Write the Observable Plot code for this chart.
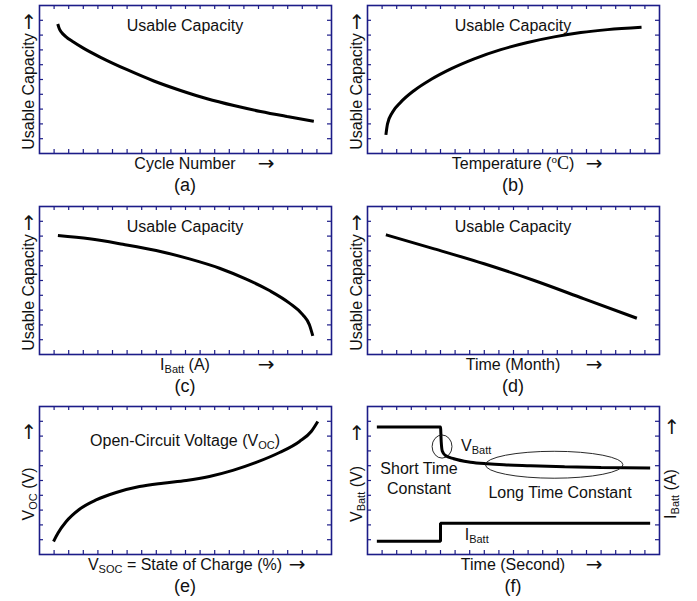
<!DOCTYPE html>
<html>
<head>
<meta charset="utf-8">
<script src="https://cdn.jsdelivr.net/npm/d3@7"></script>
<script src="https://cdn.jsdelivr.net/npm/@observablehq/plot@0.6"></script>
<style>
  html, body { margin: 0; padding: 0; background: #fff; }
  #chart { position: relative; width: 697px; height: 601px; background: #fff; }
  #chart svg { position: absolute; overflow: visible; }
</style>
</head>
<body>
<div id="chart"></div>
<script>
// ---------- data (arbitrary units: x 0..20, y 0..10) ----------
const gridX = [1,2,3,4,5,6,7,8,9,10,11,12,13,14,15,16,17,18,19];
const gridY = [1,2,3,4,5,6,7,8,9];

// (a) usable capacity vs cycle number
const cycleNumber   = [1.25, 1.35, 1.5, 1.8, 2.3, 3.0, 4.18, 6.0, 7.83, 9.66, 11.48, 13.31, 15.14, 16.96, 18.79];
const capacityCycle = [8.75, 8.45, 8.2, 7.9, 7.55, 7.12, 6.5, 5.66, 4.9, 4.26, 3.70, 3.24, 2.84, 2.50, 2.18];

// (b) usable capacity vs temperature
const temperature  = [1.26, 1.37, 1.71, 2.28, 3.2, 4.34, 5.71, 7.31, 9.13, 10.96, 12.79, 14.61, 16.44, 18.77];
const capacityTemp = [1.26, 2.0, 2.79, 3.47, 4.26, 5.0, 5.72, 6.4, 7.02, 7.5, 7.88, 8.17, 8.37, 8.53];

// (c) usable capacity vs battery current
const batteryCurrent  = [1.26, 3.42, 5.71, 7.99, 10.27, 12.33, 14.16, 15.75, 17.12, 18.04, 18.49, 18.72];
const capacityCurrent = [8.04, 7.82, 7.45, 7.03, 6.46, 5.83, 5.09, 4.32, 3.47, 2.68, 2.0, 1.26];

// (d) usable capacity vs time (month)
const timeMonth    = [1.26, 4.57, 7.99, 11.42, 14.84, 18.45];
const capacityTime = [8.09, 7.14, 6.13, 5.0, 3.76, 2.45];

// (e) open-circuit voltage vs state of charge
const stateOfCharge = [0.96, 1.26, 1.83, 2.74, 3.88, 5.25, 6.85, 8.45, 10.05, 11.64, 13.24, 14.84, 16.44, 17.81, 18.61, 19.06];
const openCircuitV  = [0.88, 1.44, 2.23, 3.06, 3.69, 4.19, 4.59, 4.82, 5.0, 5.27, 5.68, 6.22, 6.89, 7.64, 8.31, 8.99];

// (f) transient response: battery voltage and current vs time (second)
const vBattTime = [0.64, 5.0, 5.05, 5.12, 5.34, 5.91, 7.05, 8.2, 9.34, 11.16, 13.5, 16.0, 19.36];
const vBatt     = [8.62, 8.62, 7.6, 7.0, 6.69, 6.47, 6.24, 6.13, 6.06, 6.0, 5.93, 5.87, 5.84];
const iBattTime = [0.64, 5.0, 5.0, 19.36];
const iBatt     = [0.9, 0.9, 2.11, 2.11];

// (f) annotation ellipses (centre and radii in data units)
const ellipseCx = [5.14, 12.82];
const ellipseCy = [7.26, 6.03];
const ellipseRx = [0.68, 4.71];
const ellipseRy = [0.78, 0.91];

// ---------- styling ----------
const SANS = "'Liberation Sans', Arial, Helvetica, sans-serif";
const SERIF = "'Liberation Serif', 'Times New Roman', serif";
const ARROWFONT = "'DejaVu Sans', sans-serif";
const NAVY = "#1c1c88";
const INK = "#111";
const FW = 292, FH = 148;

const zip = (xs, ys) => xs.map((x, i) => ({x, y: ys[i]}));
const sub = (t) => ({t, size: 11, shift: 3});

const panels = [
  { col: 0, row: 0, letter: "(a)",
    series: [{data: zip(cycleNumber, capacityCycle), curve: "monotone-x"}],
    title: ["Usable Capacity"], titleY: 26,
    xlabel: ["Cycle Number"], arrowDx: 81,
    ylabel: ["Usable Capacity"], ylabelY: 86.5, yarrowY: 16.5 },
  { col: 1, row: 0, letter: "(b)",
    series: [{data: zip(temperature, capacityTemp), curve: "monotone-x"}],
    title: ["Usable Capacity"], titleY: 26,
    xlabel: ["Temperature (", {t: "o", size: 11, shift: -6, family: SERIF}, {t: "C", family: SERIF, size: 18, shift: 0}, ")"], arrowDx: 81,
    ylabel: ["Usable Capacity"], ylabelY: 86.5, yarrowY: 16.5 },
  { col: 0, row: 1, letter: "(c)",
    series: [{data: zip(batteryCurrent, capacityCurrent), curve: "monotone-x"}],
    title: ["Usable Capacity"], titleY: 26,
    xlabel: ["I", sub("Batt"), " (A)"], arrowDx: 81,
    ylabel: ["Usable Capacity"], ylabelY: 86.5, yarrowY: 16.5 },
  { col: 1, row: 1, letter: "(d)",
    series: [{data: zip(timeMonth, capacityTime), curve: "monotone-x"}],
    title: ["Usable Capacity"], titleY: 26,
    xlabel: ["Time (Month)"], arrowDx: 81,
    ylabel: ["Usable Capacity"], ylabelY: 86.5, yarrowY: 16.5 },
  { col: 0, row: 2, letter: "(e)",
    series: [{data: zip(stateOfCharge, openCircuitV), curve: "monotone-x"}],
    title: ["Open-Circuit Voltage (V", sub("OC"), ")"], titleY: 40,
    xlabel: ["V", sub("SOC"), " = State of Charge (%)"], arrowDx: 112,
    ylabel: ["V", sub("OC"), " (V)"], ylabelY: 88, yarrowY: 25.5 },
  { col: 1, row: 2, letter: "(f)",
    series: [{data: zip(vBattTime, vBatt), curve: "monotone-x"},
             {data: zip(iBattTime, iBatt), curve: "linear"}],
    ellipses: true,
    xlabel: ["Time (Second)"], arrowDx: 81,
    ylabel: ["V", sub("Batt"), " (V)"], ylabelY: 88, yarrowY: 26.5,
    rightLabel: ["I", sub("Batt"), " (A)"], rightLabelY: 88, rightArrowY: 20.5,
    notes: [
      {x: 94, y: 44.7, anchor: "start", parts: ["V", sub("Batt")]},
      {x: 52, y: 68.3, parts: ["Short Time"]},
      {x: 52, y: 88.3, parts: ["Constant"]},
      {x: 193, y: 92.3, parts: ["Long Time Constant"]},
      {x: 97.7, y: 133.5, anchor: "start", parts: ["I", sub("Batt")]}
    ] }
];

const colLayout = [
  {left: 0, width: 348, ml: 39, mr: 17},
  {left: 348, width: 349, ml: 19, mr: 38}
];
const rowLayout = [
  {top: 0, height: 200, mt: 5, mb: 47},
  {top: 200, height: 200, mt: 6, mb: 46},
  {top: 400, height: 201, mt: 6, mb: 47}
];

function addText(svg, {x, y, parts, anchor = "middle", size = 16, rotate = 0, family = SANS, central = false}) {
  const t = svg.append("text")
    .attr("transform", `translate(${x},${y})` + (rotate ? ` rotate(${rotate})` : ""))
    .attr("text-anchor", anchor)
    .attr("font-family", family)
    .attr("font-size", size)
    .attr("fill", INK);
  if (central) t.attr("dominant-baseline", "central");
  let cur = 0;
  for (const p of parts) {
    const o = typeof p === "string" ? {t: p} : p;
    const shift = o.shift ?? 0;
    const s = t.append("tspan").text(o.t);
    if (shift !== cur) { s.attr("dy", shift - cur); cur = shift; }
    if (o.size) s.attr("font-size", o.size);
    if (o.family) s.attr("font-family", o.family);
  }
  return t;
}

function addArrow(svg, x, y, rotate = 0) {
  return addText(svg, {x, y, parts: ["\u2192"], family: ARROWFONT, size: 20, rotate, central: true});
}

const root = document.getElementById("chart");

for (const p of panels) {
  const C = colLayout[p.col], R = rowLayout[p.row];
  const plot = Plot.plot({
    width: C.width, height: R.height,
    marginLeft: C.ml, marginRight: C.mr, marginTop: R.mt, marginBottom: R.mb,
    x: {domain: [0, 20], axis: null},
    y: {domain: [0, 10], axis: null},
    style: {background: "transparent", overflow: "visible"},
    marks: [
      Plot.tickX(gridX, {x: d => d, stroke: NAVY, strokeWidth: 1.2, insetTop: FH - 4}),
      Plot.tickX(gridX, {x: d => d, stroke: NAVY, strokeWidth: 1.2, insetBottom: FH - 4}),
      Plot.tickY(gridY, {y: d => d, stroke: NAVY, strokeWidth: 1.2, insetRight: FW - 4}),
      Plot.tickY(gridY, {y: d => d, stroke: NAVY, strokeWidth: 1.2, insetLeft: FW - 4}),
      Plot.frame({stroke: NAVY, strokeWidth: 1.6}),
      ...p.series.map(s => Plot.line(s.data, {
        x: "x", y: "y", curve: s.curve, stroke: "#000", strokeWidth: 3,
        strokeLinejoin: "miter", strokeLinecap: "butt"
      }))
    ]
  });
  plot.style.left = C.left + "px";
  plot.style.top = R.top + "px";
  root.appendChild(plot);

  const svg = d3.select(plot);
  const fx0 = C.ml, fy0 = R.mt, fx1 = C.ml + FW, fy1 = R.mt + FH;
  const cx = fx0 + FW / 2;

  if (p.title) addText(svg, {x: cx, y: fy0 + p.titleY, parts: p.title});
  addText(svg, {x: cx, y: fy1 + 16, parts: p.xlabel});
  addArrow(svg, cx + p.arrowDx, fy1 + 10);
  addText(svg, {x: cx, y: fy1 + 38, parts: [p.letter], size: 18});
  addText(svg, {x: fx0 - 5.5, y: fy0 + p.ylabelY, parts: p.ylabel, rotate: -90});
  addArrow(svg, fx0 - 11.5, fy0 + p.yarrowY, -90);
  if (p.rightLabel) {
    addText(svg, {x: fx1 + 17, y: fy0 + p.rightLabelY, parts: p.rightLabel, rotate: -90});
    addArrow(svg, fx1 + 11.5, fy0 + p.rightArrowY, -90);
  }
  if (p.notes) for (const n of p.notes) {
    addText(svg, {x: fx0 + n.x, y: fy0 + n.y, parts: n.parts, anchor: n.anchor || "middle"});
  }
  if (p.ellipses) {
    const sx = plot.scale("x"), sy = plot.scale("y");
    const fx = sx.apply ? (v) => sx.apply(v) : d3.scaleLinear(sx.domain, sx.range);
    const fy = sy.apply ? (v) => sy.apply(v) : d3.scaleLinear(sy.domain, sy.range);
    ellipseCx.forEach((ecx, i) => {
      const ecy = ellipseCy[i];
      svg.append("ellipse")
        .attr("cx", fx(ecx)).attr("cy", fy(ecy))
        .attr("rx", Math.abs(fx(ecx + ellipseRx[i]) - fx(ecx)))
        .attr("ry", Math.abs(fy(ecy + ellipseRy[i]) - fy(ecy)))
        .attr("fill", "none").attr("stroke", INK).attr("stroke-width", 0.9);
    });
  }
}
</script>
</body>
</html>
